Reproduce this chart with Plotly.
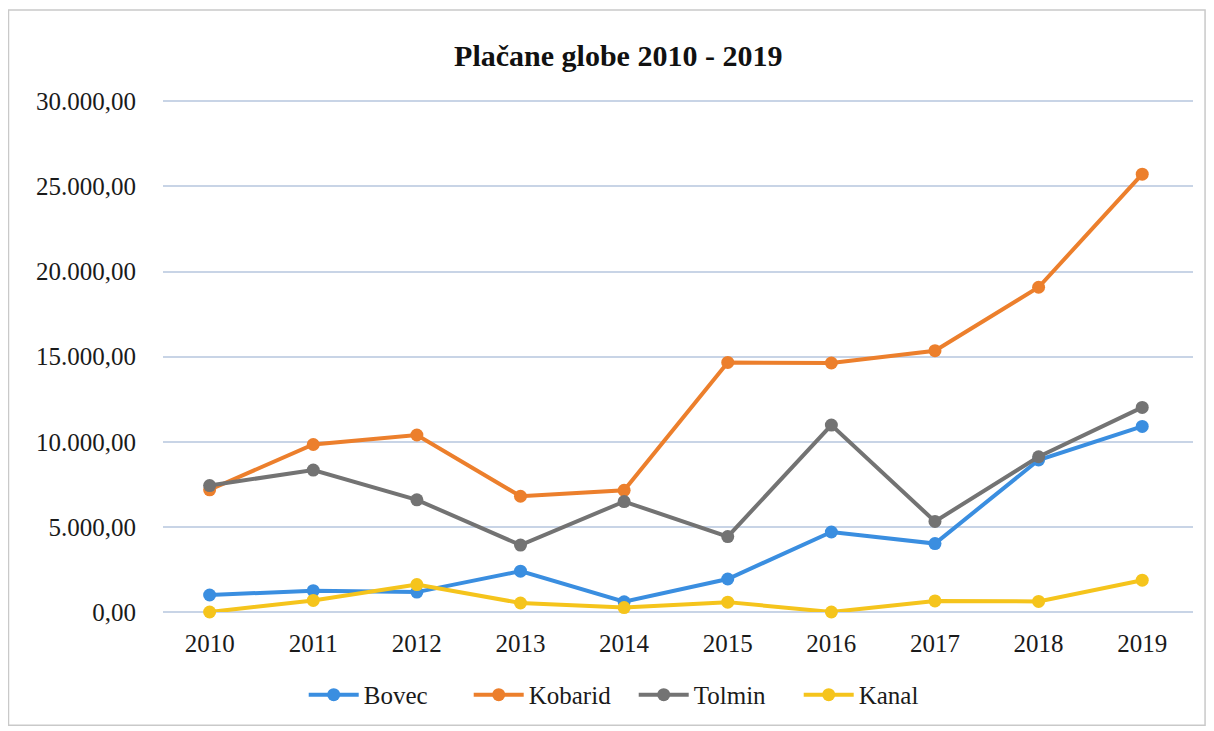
import plotly.graph_objects as go

years = ["2010", "2011", "2012", "2013", "2014", "2015", "2016", "2017", "2018", "2019"]
bovec = [1000, 1250, 1170, 2400, 600, 1940, 4700, 4020, 8930, 10900]
kobarid = [7180, 9840, 10400, 6800, 7150, 14660, 14630, 15350, 19080, 25720]
tolmin = [7430, 8340, 6590, 3930, 6490, 4430, 10980, 5320, 9120, 12020]
kanal = [0, 680, 1610, 530, 260, 580, 0, 650, 620, 1870]

series = [
    ("Bovec", bovec, "#3a8ee0"),
    ("Kobarid", kobarid, "#ec7f2c"),
    ("Tolmin", tolmin, "#737373"),
    ("Kanal", kanal, "#f5c41c"),
]

FONT = "Liberation Serif"

fig = go.Figure()
for name, vals, col in series:
    fig.add_trace(go.Scatter(
        x=years, y=vals, name=name, mode="lines+markers",
        line=dict(color=col, width=4),
        marker=dict(color=col, size=13),
        cliponaxis=False,
    ))

fig.update_layout(
    width=1206, height=723,
    margin=dict(l=155, r=21, t=92, b=119),
    paper_bgcolor="white", plot_bgcolor="white",
    separators=",.",
    font=dict(family=FONT, size=25, color="#1a1a1a"),
    title=dict(text="<b>Plačane globe 2010 - 2019</b>", x=0.506, xanchor="center",
               y=1 - 47 / 723, yanchor="middle", yref="container",
               font=dict(family=FONT, size=30, color="#111111")),
    showlegend=True,
    legend=dict(orientation="h", x=0.457, xanchor="center", y=-0.162, yanchor="middle",
                font=dict(family=FONT, size=25), itemwidth=50, tracegroupgap=0,
                entrywidth=100, entrywidthmode="pixels"),
    xaxis=dict(type="category", range=[-0.45, 9.49], showgrid=False, showline=False,
               zeroline=False, ticks="", ticklabelstandoff=14,
               tickfont=dict(family=FONT, size=25)),
    yaxis=dict(range=[0, 30080], dtick=5000, tick0=0, tickformat=",.2f", showgrid=True,
               gridcolor="#c8d4e6", gridwidth=1.5, zeroline=True, zerolinecolor="#c8d4e6",
               zerolinewidth=1.5, showline=False, ticks="", ticklabelstandoff=26,
               tickfont=dict(family=FONT, size=25)),
    shapes=[dict(type="rect", xref="paper", yref="paper",
                 x0=-0.150, x1=1.0117, y0=-0.221, y1=1.176,
                 line=dict(color="#c9c9c9", width=1.5), fillcolor="rgba(0,0,0,0)",
                 layer="below")],
)

fig.write_html("out.html")
